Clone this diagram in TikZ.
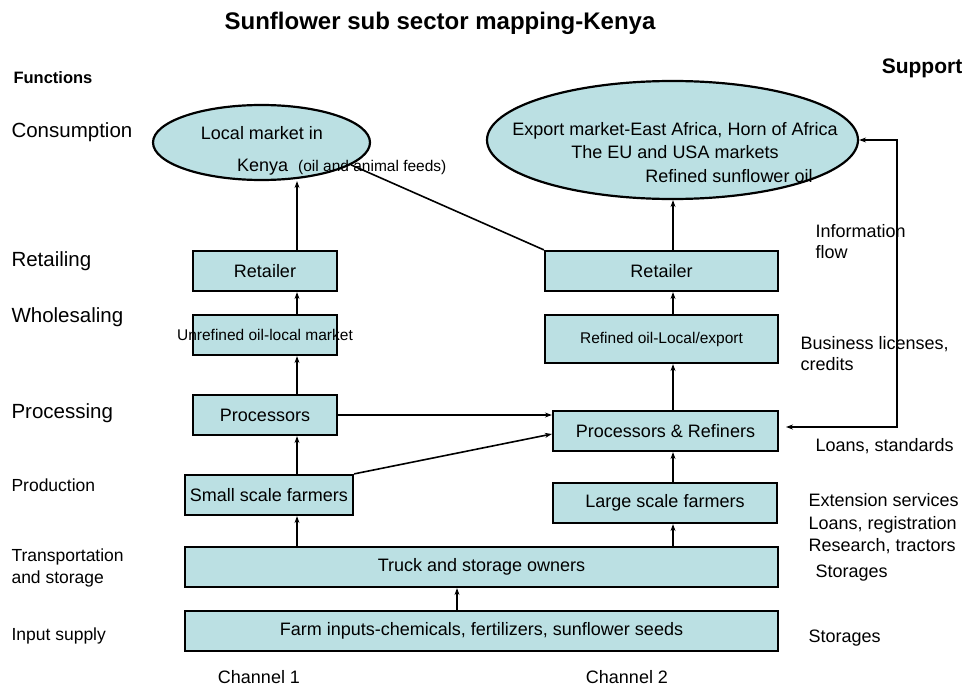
\documentclass[tikz,border=0pt]{standalone}
\usepackage{fontspec}
\setmainfont{Liberation Sans}
\usetikzlibrary{arrows.meta,calc,shapes.geometric}
\definecolor{stagefill}{RGB}{187,224,227}
\tikzset{
    stage/.style={draw, fill=stagefill, line width=2.2pt, minimum height=40pt,
                  inner sep=2pt, align=center, font=\fontsize{18}{21}\selectfont},
    market/.style={ellipse, draw, fill=stagefill, line width=2.2pt, inner sep=0pt},
    flow/.style={->, line width=1.6pt},
    link/.style={line width=1.6pt},
    funclabel/.style={anchor=west, align=left, font=\fontsize{20.5}{24}\selectfont},
    subfunc/.style={funclabel, font=\fontsize{17.5}{22}\selectfont},
    supportnote/.style={anchor=west, align=left, font=\fontsize{18}{21.5}\selectfont},
    smalltext/.style={font=\fontsize{15.5}{18}\selectfont},
    plaintext/.style={font=\fontsize{18}{23}\selectfont, align=center},
}
\newcommand{\chainarrow}[3]{
    \draw[flow] (#2.north -| #1) -- (#3.south -| #1);
}

\begin{document}
\begin{tikzpicture}[x=1pt, y=-1pt, >={Stealth[length=7pt,width=5pt]}]
    \path[use as bounding box] (0,0) rectangle (971,690);

    % headings
    \node[font=\bfseries\fontsize{24}{28}\selectfont] (title) at (440,23) {Sunflower sub sector mapping-Kenya};
    \node[anchor=west, font=\bfseries\fontsize{16.5}{20}\selectfont] (functions) at (10,78) {Functions};
    \node[font=\bfseries\fontsize{21}{25}\selectfont] (support) at (922,68) {Support};

    % functions
    \node[funclabel] (consumption) at (8,132) {Consumption};
    \node[funclabel] (retailing) at (8,261) {Retailing};
    \node[funclabel] (wholesaling) at (8,317) {Wholesaling};
    \node[funclabel] (processing) at (8,413) {Processing};
    \node[subfunc] (production) at (8,485) {Production};
    \node[subfunc] (transport) at (8,568) {Transportation\\and storage};
    \node[subfunc] (supply) at (8,636) {Input supply};

    % consumption markets
    \node[market, minimum width=217pt, minimum height=75pt] (lmarket) at (261.5,142.5) {};
    \node[plaintext] (lmarkettop) at (262,133) {Local market in};
    \node[plaintext, anchor=base west, inner sep=0pt] (kenya) at (237,171) {Kenya};
    \node[anchor=base west, inner sep=0pt, font=\fontsize{15.5}{18}\selectfont] (feeds) at (298,171) {(oil and animal feeds)};

    \node[market, minimum width=371pt, minimum height=118pt] (xmarket) at (672.5,140) {};
    \node[plaintext] (xmarkettop) at (675,141) {Export market-East Africa, Horn of Africa\\The EU and USA markets};
    \node[plaintext] (xmarketoil) at (729,176) {Refined sunflower oil};

    % channel 1
    \node[stage, minimum width=144pt] (lretail) at (265,271) {Retailer};
    \node[stage, minimum width=144pt, smalltext] (lunref) at (265,335) {\makebox[0pt]{Unrefined oil-local market}};
    \node[stage, minimum width=144pt] (lproc) at (265,415) {Processors};
    \node[stage, minimum width=168pt] (lsmall) at (269,495) {Small scale farmers};

    % channel 2
    \node[stage, minimum width=233pt] (rretail) at (661.5,271) {Retailer};
    \node[stage, minimum width=233pt, minimum height=48pt, smalltext] (rrefined) at (661.5,339) {Refined oil-Local/export};
    \node[stage, minimum width=225pt] (prr) at (665.5,431) {Processors \& Refiners};
    \node[stage, minimum width=224pt] (large) at (665,503) {Large scale farmers};

    % shared stages
    \node[stage, minimum width=593pt] (truck) at (481.5,567) {Truck and storage owners};
    \node[stage, minimum width=593pt] (inputs) at (481.5,631) {Farm inputs-chemicals, fertilizers, sunflower seeds};

    \node[plaintext] (chone) at (259,677) {Channel 1};
    \node[plaintext] (chtwo) at (627,677) {Channel 2};

    % support services
    \node[supportnote] (info) at (812,241.5) {Information\\flow};
    \node[supportnote] (licences) at (797,353.5) {Business licenses,\\credits};
    \node[supportnote] (loans) at (812,446) {Loans, standards};
    \node[supportnote, font=\fontsize{18}{22.5}\selectfont] (extension) at (805,524) {Extension services\\Loans, registration\\Research, tractors};
    \node[supportnote] (storesA) at (812,573) {Storages};
    \node[supportnote] (storesB) at (805,638) {Storages};

    % product flow
    \coordinate (colL) at (297,0);
    \coordinate (colM) at (457,0);
    \coordinate (colR) at (673,0);
    \chainarrow{colL}{lretail}{lmarket}
    \chainarrow{colL}{lunref}{lretail}
    \chainarrow{colL}{lproc}{lunref}
    \chainarrow{colL}{lsmall}{lproc}
    \chainarrow{colL}{truck}{lsmall}
    \chainarrow{colR}{rretail}{xmarket}
    \chainarrow{colR}{rrefined}{rretail}
    \chainarrow{colR}{prr}{rrefined}
    \chainarrow{colR}{large}{prr}
    \chainarrow{colR}{truck}{large}
    \chainarrow{colM}{inputs}{truck}

    \draw[link] (lmarket.-14) -- (rretail.north west);
    \draw[flow] (lproc.east) -- (lproc.east -| prr.west);
    \draw[flow] (lsmall.north east) -- ($(prr.west)+(0,3)$);

    % information flow
    \coordinate (infotop) at (897,140);
    \coordinate (infobot) at (897,427);
    \coordinate (infoend) at (786,427);
    \draw[flow, <->] (xmarket.east) -- (infotop) -- (infobot) -- (infoend);

\end{tikzpicture}
\end{document}
